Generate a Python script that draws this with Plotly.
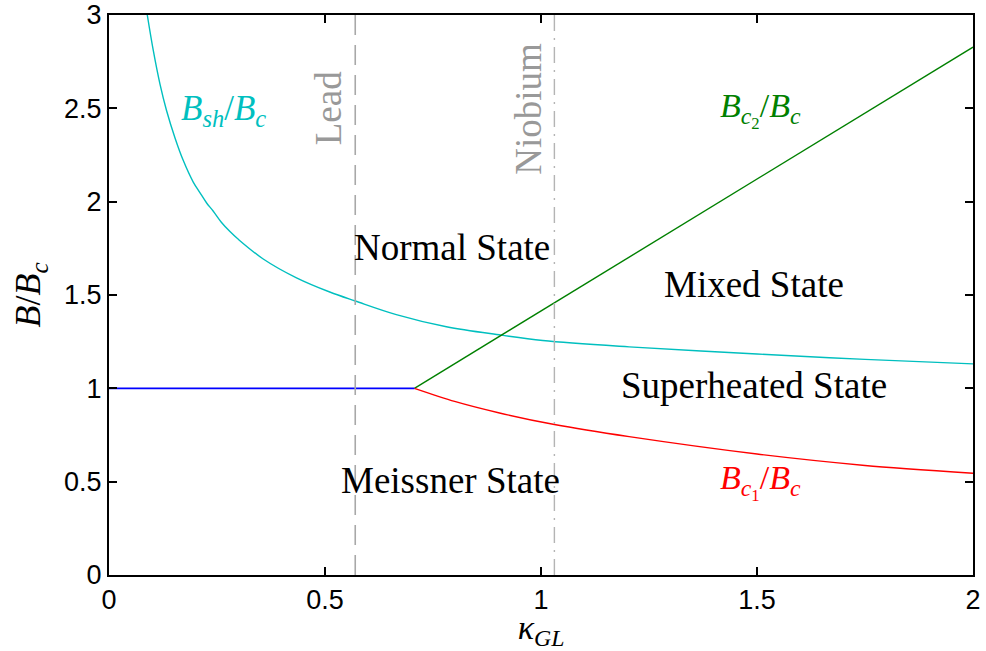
import plotly.graph_objects as go

# Ginzburg-Landau parameter on the horizontal axis
kappa_meissner = [0.0, 0.707]
b_meissner = [1.0, 1.0]

kappa_bc2 = [0.707, 2.0]
b_bc2 = [1.0, 2.828]

kappa_bc1 = [0.707, 0.8, 0.904, 1.031, 1.204, 1.5, 1.75, 2.0]
b_bc1 = [1.0, 0.93, 0.868, 0.806, 0.741, 0.648, 0.587, 0.545]

kappa_bsh = [0.0886, 0.1025, 0.118, 0.133, 0.153, 0.172, 0.195, 0.21, 0.226,
             0.241, 0.26, 0.28, 0.30, 0.357, 0.434, 0.511, 0.57, 0.665, 0.781,
             0.908, 1.004, 1.204, 1.5, 1.75, 2.0]
b_bsh = [3.00, 2.81, 2.63, 2.49, 2.34, 2.22, 2.105, 2.05, 1.993,
         1.95, 1.89, 1.84, 1.797, 1.693, 1.592, 1.516, 1.468, 1.395, 1.330,
         1.285, 1.256, 1.222, 1.184, 1.155, 1.131]

kappa_lead = 0.57
kappa_niobium = 1.031

x_ticks = [0, 0.5, 1, 1.5, 2]
x_tick_text = ["0", "0.5", "1", "1.5", "2"]
y_ticks = [0, 0.5, 1, 1.5, 2, 2.5, 3]
y_tick_text = ["0", "0.5", "1", "1.5", "2", "2.5", "3"]

SERIF = "Liberation Serif, Times New Roman, serif"
SANS = "Liberation Sans, Arial, Helvetica, sans-serif"
CYAN = "#00BFBF"
GREEN = "#008000"
RED = "#FF0000"
BLUE = "#0000FF"
GRAY = "#999999"

fig = go.Figure()

fig.add_trace(go.Scatter(x=kappa_bsh, y=b_bsh, mode="lines",
                         line=dict(color=CYAN, width=1.4, shape="spline", smoothing=1.0),
                         hoverinfo="skip"))
fig.add_trace(go.Scatter(x=kappa_bc2, y=b_bc2, mode="lines",
                         line=dict(color=GREEN, width=1.4), hoverinfo="skip"))
fig.add_trace(go.Scatter(x=kappa_bc1, y=b_bc1, mode="lines",
                         line=dict(color=RED, width=1.4, shape="spline", smoothing=0.8),
                         hoverinfo="skip"))
fig.add_trace(go.Scatter(x=kappa_meissner, y=b_meissner, mode="lines",
                         line=dict(color=BLUE, width=1.6), hoverinfo="skip"))

# material markers
fig.add_trace(go.Scatter(x=[kappa_lead, kappa_lead], y=[0, 3], mode="lines",
                         line=dict(color="#A8A8A8", width=1.6, dash="20px,10px"),
                         hoverinfo="skip"))
fig.add_trace(go.Scatter(x=[kappa_niobium, kappa_niobium], y=[0, 3], mode="lines",
                         line=dict(color="#B4B4B4", width=1.4, dash="16px,7px,2px,7px"),
                         hoverinfo="skip"))

state_font = dict(family=SERIF, size=37, color="black")
annotations = [
    dict(x=0.795, y=1.752, text="Normal State", font=state_font),
    dict(x=1.493, y=1.555, text="Mixed State", font=state_font),
    dict(x=1.493, y=1.015, text="Superheated State", font=state_font),
    dict(x=0.79, y=0.505, text="Meissner State", font=state_font),
    dict(x=0.51, y=2.502, text="Lead", textangle=-90,
         font=dict(family=SERIF, size=37, color=GRAY)),
    dict(x=0.969, y=2.496, text="Niobium", textangle=-90,
         font=dict(family=SERIF, size=37, color=GRAY)),
    dict(x=0.266, y=2.49,
         text="<i>B</i><sub><i>sh</i></sub>/<i>B</i><sub><i>c</i></sub>",
         font=dict(family=SERIF, size=35, color=CYAN)),
    dict(x=1.509, y=2.49,
         text="<i>B</i><sub><i>c</i><sub>2</sub></sub>/<i>B</i><sub><i>c</i></sub>",
         font=dict(family=SERIF, size=34, color=GREEN)),
    dict(x=1.509, y=0.50,
         text="<i>B</i><sub><i>c</i><sub>1</sub></sub>/<i>B</i><sub><i>c</i></sub>",
         font=dict(family=SERIF, size=34, color=RED)),
]
for a in annotations:
    a.update(xref="x", yref="y", showarrow=False, xanchor="center", yanchor="middle")

axis_common = dict(
    showline=True, linecolor="black", linewidth=2, mirror="ticks",
    ticks="inside", ticklen=8, tickwidth=1.5, tickcolor="black",
    showgrid=False, zeroline=False, automargin=False,
    tickfont=dict(family=SANS, size=27, color="black"),
)

fig.update_layout(
    width=986, height=651,
    margin=dict(l=109, r=13, t=15, b=76),
    paper_bgcolor="white", plot_bgcolor="white",
    showlegend=False,
    annotations=annotations,
    xaxis=dict(range=[0, 2], tickvals=x_ticks, ticktext=x_tick_text,
               title=dict(text="<i>\u03ba</i><sub><i>GL</i></sub>",
                          font=dict(family=SERIF, size=34, color="black"), standoff=15),
               **axis_common),
    yaxis=dict(range=[0, 3], tickvals=y_ticks, ticktext=y_tick_text,
               title=dict(text="<i>B</i>/<i>B</i><sub><i>c</i></sub>",
                          font=dict(family=SERIF, size=36, color="black"), standoff=12),
               **axis_common),
)

fig.write_html("out.html")
